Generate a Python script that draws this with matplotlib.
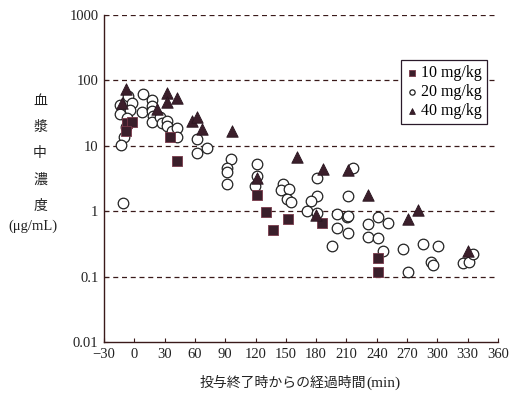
import matplotlib
matplotlib.use("Agg")
import matplotlib.pyplot as plt
from matplotlib.ticker import FixedLocator, NullLocator

# ---- data ----
t10 = [-7.5, -2, -8.2, 35.3, 42, 121.2, 130.4, 137.6, 151.9, 185.5, 241.6, 241.6]
c10 = [22, 22.9, 17, 13.5, 5.9, 1.77, 0.98, 0.52, 0.75, 0.65, 0.19, 0.116]

t20 = [-5.9, -2.6, -14.2, -4.3, -14.2, -7.5, -8.2, -10.2, -13.5, -11.5,
       8.9, 17.2, 17.2, 7.3, 17.2, 18.8, 17.2, 25.4, 27.1, 32.1, 32.1, 37, 42, 42,
       61.8, 61.8, 71.7, 95.7, 91.5, 91.5, 91.5, 121.2, 121.2, 119.5,
       147.5, 145, 153.5, 150.9, 155.1, 180.6, 180.6, 175, 170.7, 180.6,
       200.4, 200.4, 195.4, 210.3, 211.9, 211.3, 211.3, 216.8,
       231.7, 231.1, 241, 241, 245.9, 251.5, 266.3, 286.1, 301, 271.3,
       293.5, 295.3, 325.7, 331.7, 335.6]
c20 = [57.7, 45.6, 42, 35, 31, 27, 19.6, 13.5, 10.3, 1.35,
       62, 51, 40.6, 32.5, 34.4, 28.6, 23.4, 27.3, 22, 24.2, 20, 17, 18.5, 13.8,
       12.7, 7.8, 9.2, 6.2, 4.5, 4.0, 2.6, 5.2, 3.4, 2.4,
       2.6, 2.1, 2.16, 1.54, 1.4, 3.25, 1.7, 1.43, 1.0, 0.95,
       0.9, 0.56, 0.29, 0.82, 0.84, 0.46, 1.73, 4.5,
       0.63, 0.4, 0.39, 0.82, 0.25, 0.65, 0.26, 0.31, 0.29, 0.117,
       0.17, 0.15, 0.163, 0.167, 0.22]

t40 = [-8.2, -12.5, 31.9, 42.6, 31.9, 22, 56.8, 62, 66.7, 96.9,
       121.2, 161.4, 186.5, 211.9, 231.1, 180.3, 271.3, 281.2, 330.7]
c40 = [75, 45.6, 65, 53, 46, 37, 24, 28, 17.9, 16.7,
       3.2, 6.8, 4.4, 4.2, 1.77, 0.87, 0.76, 1.04, 0.25]

labels = ["10 mg/kg", "20 mg/kg", "40 mg/kg"]
xticks = [-30, 0, 30, 60, 90, 120, 150, 180, 210, 240, 270, 300, 330, 360]
yticks = [0.01, 0.1, 1, 10, 100, 1000]
ytick_labels = ["0.01", "0.1", "1", "10", "100", "1000"]
ylabel_chars = ["血", "漿", "中", "濃", "度"]
xlabel_jp = "投与終了時からの経過時間"
xlabel_unit = "(min)"

serif = ["Liberation Serif", "DejaVu Serif"]
jp = ["Noto Sans CJK JP", "DejaVu Sans"]

fig = plt.figure(figsize=(5.23, 3.96), dpi=100)
ax = fig.add_axes([104 / 523, 1 - 342 / 396, 394 / 523, 327 / 396])

dark = "#3b1f2b"
ax.scatter(t20, c20, marker="o", s=58, facecolor="white", edgecolor="#222222",
           linewidths=0.9, label=labels[1], zorder=3)
ax.scatter(t10, c10, marker="s", s=52, facecolor=dark, edgecolor="#7a3a4a",
           linewidths=0.6, label=labels[0], zorder=4)
ax.scatter(t40, c40, marker="^", s=68, facecolor=dark, edgecolor="#2a1520",
           linewidths=0.6, label=labels[2], zorder=5)

ax.set_yscale("log")
ax.set_xlim(-30, 360)
ax.set_ylim(0.01, 1000)
ax.xaxis.set_major_locator(FixedLocator(xticks))
ax.yaxis.set_major_locator(FixedLocator(yticks))
ax.yaxis.set_minor_locator(NullLocator())
ax.set_yticklabels(ytick_labels)
ax.set_xticklabels(["\u221230" if v < 0 else str(v) for v in xticks])
for lab in ax.get_xticklabels() + ax.get_yticklabels():
    lab.set_family(serif)
    lab.set_fontsize(10.5)
    lab.set_color("#222222")
ax.tick_params(direction="in", length=3, width=0.8, colors="#3a1a1a",
               labelcolor="#222222", pad=4)

for v in yticks[1:]:
    ax.axhline(v, color="#3a1a1a", lw=0.9, ls=(0, (4, 3)), zorder=1)

for sp in ["top", "right"]:
    ax.spines[sp].set_visible(False)
for sp in ["left", "bottom"]:
    ax.spines[sp].set_color("#3a1a1a")
    ax.spines[sp].set_linewidth(1.0)

# legend
handles, labs = ax.get_legend_handles_labels()
order = [1, 0, 2]
leg = ax.legend([handles[i] for i in order], [labs[i] for i in order],
                loc="upper right", bbox_to_anchor=(487 / 523, 1 - 60 / 396),
                bbox_transform=fig.transFigure, borderaxespad=0,
                prop={"family": serif, "size": 11.5}, frameon=True,
                fancybox=False, edgecolor="#2a1a2a", framealpha=1,
                handletextpad=0.2, borderpad=0.3, labelspacing=0.2,
                handlelength=0.8, markerscale=0.5)
leg.get_frame().set_linewidth(0.9)

# y label (vertical stacked characters)
ys = [101, 127, 153, 180, 206]
for ch, y in zip(ylabel_chars, ys):
    fig.text(40 / 523, 1 - y / 396, ch, family=jp, fontsize=10,
             ha="center", va="center", color="#222222")
fig.text(33 / 523, 1 - 226 / 396, "(\u03bcg/mL)", family=serif, fontsize=10.5,
         ha="center", va="center", color="#222222")

# x label: Japanese part + serif unit
fig.text(366 / 523, 1 - 383 / 396, xlabel_jp, family=jp, fontsize=10,
         ha="right", va="center", color="#222222")
fig.text(366 / 523, 1 - 383 / 396, xlabel_unit, family=serif, fontsize=11,
         ha="left", va="center", color="#222222")

fig.savefig("out.png", dpi=100)
